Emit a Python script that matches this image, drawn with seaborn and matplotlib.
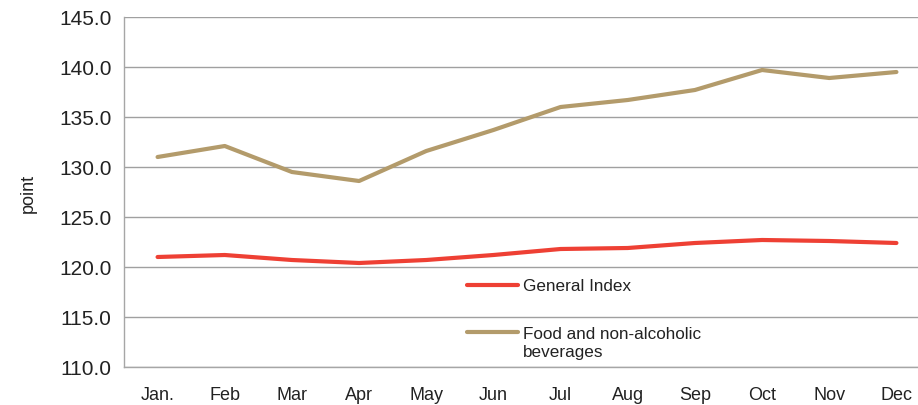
import numpy as np
import pandas as pd
import matplotlib
matplotlib.use("Agg")
import matplotlib.pyplot as plt
import seaborn as sns
from matplotlib.ticker import FixedLocator, FormatStrFormatter

months = ['Jan.', 'Feb', 'Mar', 'Apr', 'May', 'Jun', 'Jul', 'Aug', 'Sep', 'Oct', 'Nov', 'Dec']
general_index = [121.0, 121.2, 120.7, 120.4, 120.7, 121.2, 121.8, 121.9, 122.4, 122.7, 122.6, 122.4]
food_bev = [131.0, 132.1, 129.5, 128.6, 131.6, 133.7, 136.0, 136.7, 137.7, 139.7, 138.9, 139.5]
series_names = ['General Index', 'Food and non-alcoholic\nbeverages']
y_ticks = [110, 115, 120, 125, 130, 135, 140, 145]

sns.set_style("white")
plt.rcParams['font.family'] = ['Liberation Sans', 'DejaVu Sans']

df = pd.DataFrame({
    'month': list(range(len(months))) * 2,
    'value': general_index + food_bev,
    'series': [series_names[0]] * len(months) + [series_names[1]] * len(months),
})

fig = plt.figure(figsize=(9.18, 4.06), dpi=100)
ax = fig.add_axes([124 / 918, 1 - 368 / 406, (930 - 124) / 918, (368 - 18) / 406])

sns.lineplot(data=df, x='month', y='value', hue='series',
             palette=['#EE4034', '#B39B6B'], linewidth=3, ax=ax)

ax.set_xlim(-0.5, len(months) - 0.5)
ax.set_ylim(110, 145)
ax.set_yticks(y_ticks)
ax.yaxis.set_major_formatter(FormatStrFormatter('%.1f'))
ax.set_xticks(range(len(months)))
ax.set_xticklabels(months)
ax.xaxis.set_minor_locator(FixedLocator(np.arange(-0.5, len(months), 1)))
ax.tick_params(axis='x', which='major', length=0, pad=14, labelsize=13, colors='#222222')
ax.tick_params(axis='x', which='minor', length=5, color='#A6A6A6', width=1, direction='out')
ax.tick_params(axis='y', length=5, color='#A6A6A6', width=1, direction='out', labelsize=15, colors='#222222', pad=4)
ax.set_xlabel('')
ax.set_ylabel('point', fontsize=13, color='#222222', labelpad=16)

ax.grid(axis='y', color='#A0A0A0', linewidth=1)
ax.set_axisbelow(True)
for side in ['top', 'right']:
    ax.spines[side].set_visible(False)
for side in ['left', 'bottom']:
    ax.spines[side].set_color('#A6A6A6')
    ax.spines[side].set_linewidth(1)

leg = ax.legend(loc='upper left', bbox_to_anchor=((467 - 124) / 806, (368 - 279) / 350),
                frameon=False, fontsize=12.3, handlelength=3.0, handleheight=1.0,
                handletextpad=0.3, labelspacing=1.9, borderaxespad=0, borderpad=0)
for t in leg.get_texts():
    t.set_color('#222222')
    t.set_linespacing(1.3)
# put each key line level with the first line of its label
for col in leg._legend_handle_box.get_children():
    for item in col.get_children():
        item.align = 'top'

fig.savefig('out.png', dpi=100)
